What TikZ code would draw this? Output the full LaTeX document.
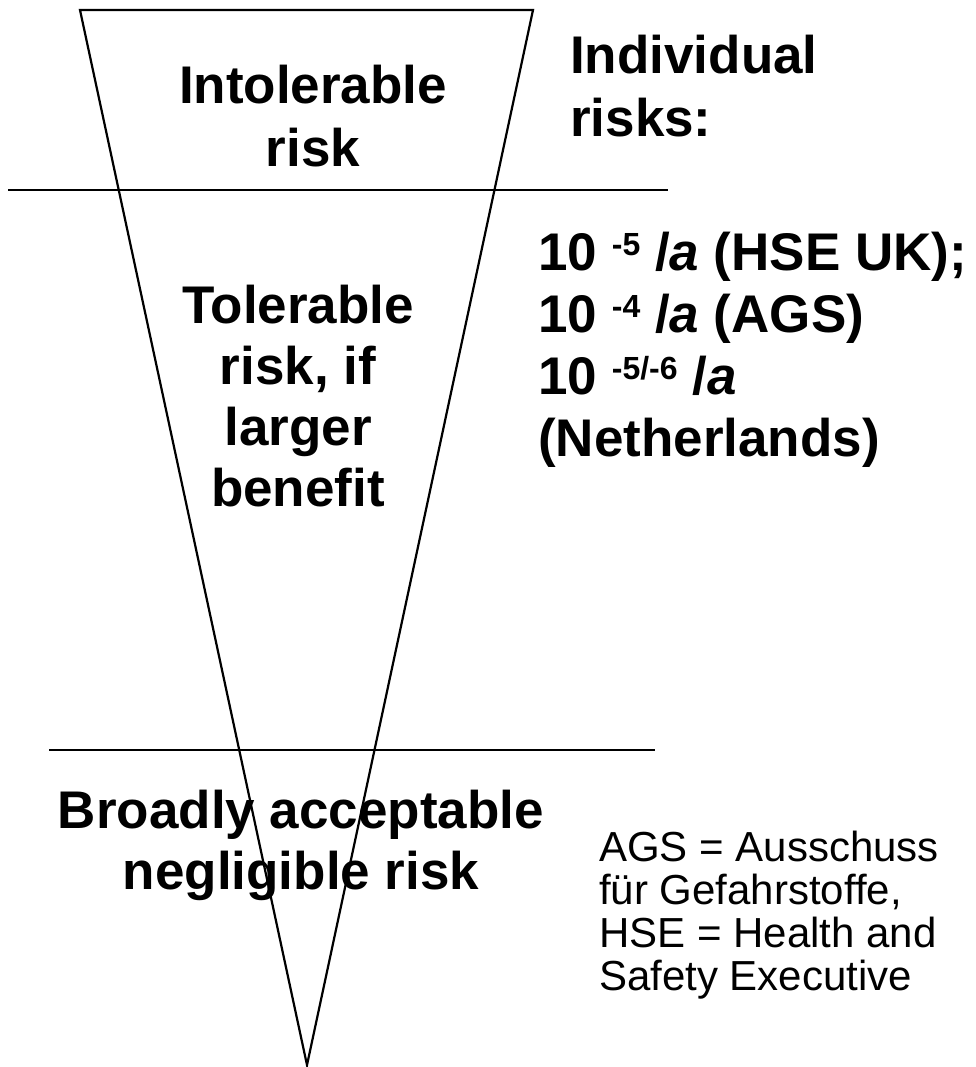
\documentclass[tikz,border=0pt]{standalone}
\usepackage{fontspec}
\setmainfont{Liberation Sans}
\newcommand\supx[1]{\raisebox{15pt}{\fontsize{32}{32}\selectfont #1}}
\begin{document}
\begin{tikzpicture}[x=1pt,y=-1pt,
  edge/.style={line width=2.2pt,line join=miter},
  rule/.style={line width=2.4pt},
  big/.style={font=\fontsize{53}{63}\selectfont\bfseries,inner sep=0pt},
  small/.style={font=\fontsize{42}{43}\selectfont,inner sep=0pt,align=left,anchor=base west}]
\useasboundingbox (0,0) rectangle (975,1067);
\coordinate (tl) at (80,10);
\coordinate (tr) at (533,10);
\coordinate (apex) at (307,1065);
\coordinate (l1a) at (8,190);
\coordinate (l1b) at (668,190);
\coordinate (l2a) at (49,750);
\coordinate (l2b) at (655,750);
\draw[edge] (tl) -- (tr) -- (apex) -- cycle;
\draw[rule] (l1a) -- (l1b);
\draw[rule] (l2a) -- (l2b);
\node[big,align=center,anchor=base] (intol) at (313,167) {Intolerable\\risk};
\node[big,align=left,anchor=base west] (indiv) at (570,137) {Individual\\risks:};
\node[big,font=\fontsize{53}{62}\selectfont\bfseries,align=left,anchor=base west] (vals) at (538,456)
  {10 \supx{-5} /\textit{a} (HSE UK);\\10 \supx{-4} /\textit{a} (AGS)\\10 \supx{-5/-6} /\textit{a}\\(Netherlands)};
\node[big,font=\fontsize{53}{61}\selectfont\bfseries,align=center,anchor=base] (toler) at (298,506) {Tolerable\\risk, if\\larger\\benefit};
\node[big,font=\fontsize{53}{61}\selectfont\bfseries,align=center,anchor=base] (broad) at (301,889) {Broadly acceptable\\negligible risk};
\node[small] (note) at (599,990) {AGS = Ausschuss\\für Gefahrstoffe,\\HSE = Health and\\Safety Executive};
\end{tikzpicture}
\end{document}
